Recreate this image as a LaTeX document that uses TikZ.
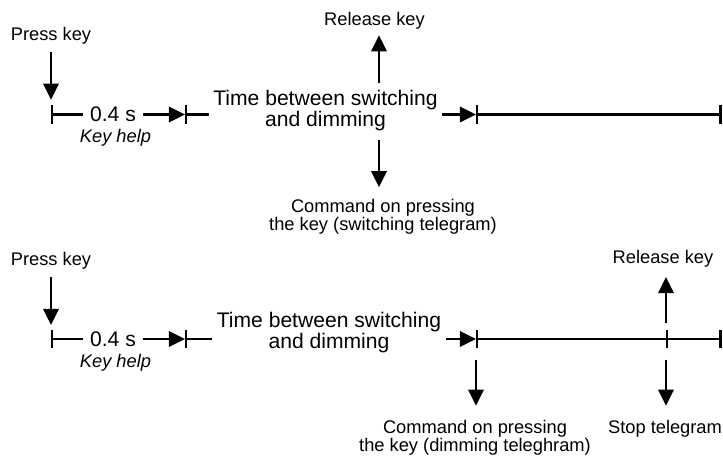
\documentclass[tikz,border=0pt]{standalone}
\usepackage{fontspec}
\setmainfont{Liberation Sans}
\usetikzlibrary{arrows.meta}

\begin{document}
\begin{tikzpicture}[
    x=0.025cm, y=-0.025cm,
    every node/.style={inner sep=1pt},
    lbl/.style={font=\fontsize{13}{13}\selectfont,align=center},
    big/.style={font=\fontsize{15}{15.4}\selectfont,align=center},
    tline/.style={line width=1.6pt},
    arr/.style={line width=1.6pt,-{Triangle[length=11.5pt,width=11pt]}},
    barstart/.style={tline,{Bar[width=13.5pt]}-},
    barboth/.style={tline,{Bar[width=13.5pt]}-{Bar[width=13.5pt]}}
]
\useasboundingbox (0,0) rectangle (723,455);

% Upper sequence: switching
\coordinate (t0) at (51,114.5);
\coordinate (t1) at (185,114.5);
\coordinate (m1) at (379,114.5);
\coordinate (t2) at (476,114.5);
\coordinate (t3) at (721.5,114.5);

\node[lbl,anchor=base] (press1) at (51,40) {Press key};
\node[big,inner xsep=5pt] (sec1) at (113,114.5) {0.4 s};
\node[lbl,anchor=base] (help1) at (115.5,142) {\itshape Key help};
\node[big,inner xsep=3pt] (tbs1) at (325.5,110.4) {Time between switching\\and dimming};
\node[lbl,anchor=base] (rel1) at (374.5,25) {Release key};
\node[lbl] (cmd1) at (383,216.5) {Command on pressing\\the key (switching telegram)};

\draw[arr,shorten <=4.8pt,shorten >=10.5pt] (press1) -- (t0);
\draw[barstart] (t0) -- (sec1);
\draw[arr] (sec1) -- (t1);
\draw[barstart] (t1) -- (t1 -| tbs1.west);
\draw[arr] (t1 -| tbs1.east) -- (t2);
\draw[barboth] (t2) -- (t3);
\draw[arr,shorten <=22.2pt,shorten >=3.4pt] (m1) -- (m1 |- rel1.south);
\draw[arr,shorten <=18.1pt,shorten >=7.1pt] (m1) -- (m1 |- cmd1.north);

% Lower sequence: dimming
\coordinate (u0) at (51,339);
\coordinate (u1) at (185,339);
\coordinate (u2) at (476,339);
\coordinate (u3) at (666,339);
\coordinate (u4) at (721.5,339);

\node[lbl,anchor=base] (press2) at (51,265) {Press key};
\node[big,inner xsep=5pt] (sec2) at (113,339) {0.4 s};
\node[lbl,anchor=base] (help2) at (115.5,367) {\itshape Key help};
\node[big,inner xsep=3pt] (tbs2) at (329,332.7) {Time between switching\\and dimming};
\node[lbl,anchor=base] (rel2) at (663,263.3) {Release key};
\node[lbl,anchor=base] (stop2) at (665,433.3) {Stop telegram};
\node[lbl] (cmd2) at (475,437.8) {Command on pressing\\the key (dimming teleghram)};

\draw[arr,shorten <=4.6pt,shorten >=10pt] (press2) -- (u0);
\draw[barstart] (u0) -- (sec2);
\draw[arr] (sec2) -- (u1);
\draw[barstart] (u1) -- (u1 -| tbs2.west);
\draw[arr] (u1 -| tbs2.east) -- (u2);
\draw[barstart] (u2) -- (u3);
\draw[barboth] (u3) -- (u4);
\draw[arr,shorten <=11.6pt,shorten >=5.8pt] (u3) -- (u3 |- rel2.south);
\draw[arr,shorten <=14.9pt,shorten >=9pt] (u3) -- (u3 |- stop2.north);
\draw[arr,shorten <=14.9pt,shorten >=9pt] (u2) -- (u2 |- cmd2.north);
\end{tikzpicture}
\end{document}
